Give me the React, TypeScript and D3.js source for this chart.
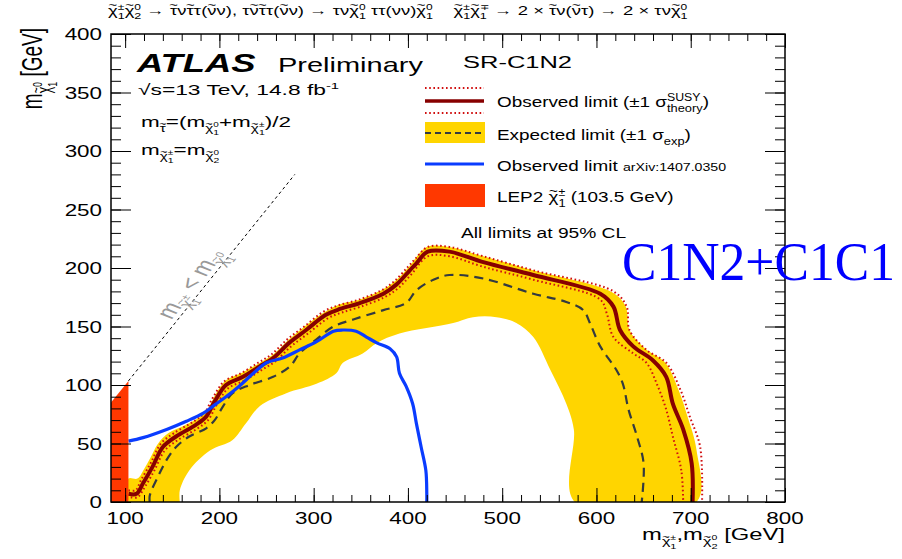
import { useEffect, useRef } from "react";
import * as d3 from "d3";

// ----- data (GeV) -----
const xMajor = [100, 200, 300, 400, 500, 600, 700, 800];
const yMajor = [0, 50, 100, 150, 200, 250, 300, 350, 400];

type P = [number, number];

const observed: P[] = [
  [103.5, 7], [112, 7], [119, 16], [129, 30], [140, 47], [154, 56], [175, 66], [186, 73],
  [195, 86], [207, 100], [225, 107], [243, 116], [257, 123], [274, 136], [292, 147],
  [313, 160], [328, 165], [349, 170], [374, 178], [388, 186], [402, 198], [409, 204],
  [421, 214], [444, 214], [480, 205], [533, 194], [604, 178], [618, 167], [625, 147],
  [639, 133], [660, 121], [674, 107], [681, 84], [692, 62], [701, 33], [702, 0],
];

const theoryUp: P[] = [
  [103.5, 10], [111, 10], [117, 19], [127, 33], [138, 50], [152, 59], [173, 69], [184, 76],
  [193, 89], [205, 103], [223, 110], [241, 119], [255, 126], [272, 139], [290, 150],
  [311, 163], [326, 168], [348, 173], [372, 181], [386, 189], [400, 201], [408, 208],
  [421, 218], [444, 218], [480, 210], [533, 198], [618, 180], [632, 167], [635, 147],
  [653, 130], [674, 119], [689, 96], [699, 73], [710, 47], [712, 0],
];

const theoryDown: P[] = [
  [106, 4], [113, 4], [121, 13], [131, 27], [142, 44], [156, 53], [177, 63], [188, 70],
  [197, 83], [209, 97], [227, 104], [245, 113], [259, 120], [276, 133], [294, 144],
  [315, 157], [330, 162], [350, 167], [375, 175], [390, 183], [404, 195], [421, 210],
  [444, 210], [480, 201], [533, 190], [604, 173], [611, 161], [618, 141], [639, 127],
  [653, 119], [664, 101], [674, 79], [681, 56], [690, 27], [692, 0],
];

const expected: P[] = [
  [126, 0], [126, 5], [128, 10], [135, 22], [144, 36], [154, 47], [168, 56], [186, 63],
  [195, 70], [204, 82], [214, 93], [232, 100], [257, 107], [275, 116], [285, 127],
  [303, 139], [321, 150], [342, 156], [374, 164], [398, 170], [409, 181], [427, 190],
  [444, 194], [480, 191], [533, 178], [568, 171], [586, 164], [593, 153], [604, 133],
  [621, 113], [628, 101], [634, 79], [643, 56], [650, 33], [648, 0],
];

const bandOuter: P[] = [
  [103.5, 0], [103.5, 20], [113, 20], [120, 28], [127, 38], [135, 50], [146, 59], [162, 65],
  [178, 72], [188, 80], [196, 92], [207, 104], [225, 111], [243, 119], [257, 126],
  [274, 139], [292, 151], [313, 163], [328, 169], [349, 173], [374, 182], [388, 190],
  [402, 202], [420, 218], [444, 218], [480, 210], [533, 198], [617, 179], [631, 167],
  [635, 147], [652, 131], [673, 119], [687, 96], [697, 72], [706, 45], [706, 0],
];

const bandInner: P[] = [
  [158, 0], [158, 10], [168, 27], [190, 44], [214, 53], [228, 67], [243, 82], [271, 93],
  [303, 101], [324, 110], [331, 119], [352, 127], [367, 136], [391, 144], [448, 153],
  [469, 158], [494, 158], [515, 153], [533, 141], [551, 113], [568, 84], [576, 62], [577, 0],
];

const arxiv: P[] = [
  [103.5, 52], [119, 55], [144, 62], [165, 69], [183, 76], [195, 83], [207, 90], [221, 99],
  [236, 110], [250, 119], [267, 123], [285, 130], [303, 137], [321, 146], [331, 147],
  [345, 146], [356, 141], [367, 136], [381, 131], [388, 124], [391, 110], [398, 99],
  [405, 84], [409, 67], [414, 47], [419, 27], [420, 7], [420, 0],
];

const lep2: P[] = [[85, 0], [85, 85], [103.5, 103.5], [103.5, 0]];
const diagonal: P[] = [[103.5, 103.5], [280, 280]];

const YELLOW = "#ffd500";
const OBS = "#870000";
const DOT = "#d01010";
const EXP = "#333a40";
const BLUE = "#0a3cff";
const LEP = "#ff3800";
const FONT = "'Liberation Sans', Arial, sans-serif";

// ----- rich text (ROOT-like latex) -----
type Seg = { t?: string; tilde?: boolean; sup?: Seg[]; sub?: Seg[]; scale?: number; bold?: boolean; italic?: boolean };
const s = (t: string): Seg => ({ t });
const chi = (sup: string, sub: string): Seg => ({ t: "χ", tilde: true, sup: [s(sup)], sub: [s(sub)] });
const til = (t: string): Seg => ({ t, tilde: true });
const mOf = (sub: Seg[]): Seg => ({ t: "m", sub });

function drawRich(g: any, segs: Seg[], x0: number, y0: number, size: number, fill: string, subDy = 0.3): number {
  let cx = x0;
  for (const sg of segs) {
    const fs = size * (sg.scale ?? 1);
    let w = 0;
    if (sg.t) {
      const t = g.append("text")
        .attr("x", cx).attr("y", y0)
        .attr("font-size", fs).attr("fill", fill)
        .style("white-space", "pre")
        .text(sg.t);
      if (sg.bold) t.attr("font-weight", "bold");
      if (sg.italic) t.attr("font-style", "italic");
      w = (t.node() as SVGTextElement).getComputedTextLength();
      if (sg.tilde) {
        g.append("text")
          .attr("x", cx + w / 2).attr("y", y0 - fs * 0.45)
          .attr("font-size", fs * 0.8).attr("fill", fill)
          .attr("text-anchor", "middle").text("~");
      }
    }
    cx += w;
    let ws = 0, wb = 0;
    if (sg.sup) ws = drawRich(g, sg.sup, cx, y0 - size * 0.42, size * 0.65, fill);
    if (sg.sub) wb = drawRich(g, sg.sub, cx, y0 + size * subDy, size * 0.68, fill);
    cx += Math.max(ws, wb);
  }
  return cx - x0;
}

function block(parent: any, transform: string, segs: Seg[], size: number, opts: { anchor?: string; fill?: string } = {}) {
  const outer = parent.append("g").attr("transform", transform).attr("font-family", FONT);
  const inner = outer.append("g");
  const w = drawRich(inner, segs, 0, 0, size, opts.fill ?? "#000");
  if (opts.anchor === "end") inner.attr("transform", `translate(${-w},0)`);
  if (opts.anchor === "middle") inner.attr("transform", `translate(${-w / 2},0)`);
  return w;
}

export default function App() {
  const ref = useRef<SVGSVGElement>(null);

  useEffect(() => {
    const svg = d3.select(ref.current);
    svg.selectAll("*").remove();

    const x = d3.scaleLinear().domain([85, 800]).range([111, 785]);
    const y = d3.scaleLinear().domain([0, 400]).range([502, 34]);
    const line = d3.line<P>().x((d) => x(d[0])).y((d) => y(d[1]));
    const smooth = d3.line<P>().x((d) => x(d[0])).y((d) => y(d[1])).curve(d3.curveCatmullRom.alpha(0.5));

    svg.append("rect").attr("width", 902).attr("height", 559).attr("fill", "#fff");
    svg.append("defs").append("clipPath").attr("id", "plot-clip")
      .append("rect").attr("x", 111).attr("y", 34).attr("width", 674).attr("height", 468);

    const plot = svg.append("g").attr("clip-path", "url(#plot-clip)");

    // yellow band
    plot.append("path")
      .attr("d", smooth([...bandOuter, ...bandInner.slice().reverse()]) + "Z")
      .attr("fill", YELLOW);

    // expected
    plot.append("path").attr("d", smooth(expected)).attr("fill", "none")
      .attr("stroke", EXP).attr("stroke-width", 2.2).attr("stroke-dasharray", "9,6");

    // theory +-1 sigma
    [theoryUp, theoryDown].forEach((d) => {
      plot.append("path").attr("d", smooth(d)).attr("fill", "none")
        .attr("stroke", DOT).attr("stroke-width", 2).attr("stroke-dasharray", "1.6,2.6");
    });

    // observed
    plot.append("path").attr("d", smooth(observed)).attr("fill", "none")
      .attr("stroke", OBS).attr("stroke-width", 4);

    // old observed limit arXiv:1407.0350
    plot.append("path").attr("d", smooth(arxiv)).attr("fill", "none")
      .attr("stroke", BLUE).attr("stroke-width", 3.2);

    // LEP2
    plot.append("path").attr("d", line(lep2) + "Z").attr("fill", LEP);

    // kinematic diagonal
    plot.append("path").attr("d", line(diagonal)).attr("fill", "none")
      .attr("stroke", "#000").attr("stroke-width", 1).attr("stroke-dasharray", "3,3");

    // ----- axes (ROOT style: ticks inside on all four sides) -----
    const axes = svg.append("g");
    const mk = (g: any) => { g.select(".domain").remove(); g.selectAll("line").attr("stroke", "#000").attr("stroke-width", 1); };
    axes.append("g").attr("transform", "translate(0,502)")
      .call(d3.axisBottom(x).tickValues(xMajor).tickSize(-14).tickFormat(() => "")).call(mk);
    axes.append("g").attr("transform", "translate(0,502)")
      .call(d3.axisBottom(x).tickValues(d3.range(100, 801, 20)).tickSize(-7).tickFormat(() => "")).call(mk);
    axes.append("g").attr("transform", "translate(0,34)")
      .call(d3.axisTop(x).tickValues(xMajor).tickSize(-14).tickFormat(() => "")).call(mk);
    axes.append("g").attr("transform", "translate(0,34)")
      .call(d3.axisTop(x).tickValues(d3.range(100, 801, 20)).tickSize(-7).tickFormat(() => "")).call(mk);
    axes.append("g").attr("transform", "translate(111,0)")
      .call(d3.axisLeft(y).tickValues(yMajor).tickSize(-20).tickFormat(() => "")).call(mk);
    axes.append("g").attr("transform", "translate(111,0)")
      .call(d3.axisLeft(y).tickValues(d3.range(0, 401, 10)).tickSize(-10).tickFormat(() => "")).call(mk);
    axes.append("g").attr("transform", "translate(785,0)")
      .call(d3.axisRight(y).tickValues(yMajor).tickSize(-20).tickFormat(() => "")).call(mk);
    axes.append("g").attr("transform", "translate(785,0)")
      .call(d3.axisRight(y).tickValues(d3.range(0, 401, 10)).tickSize(-10).tickFormat(() => "")).call(mk);
    axes.append("rect").attr("x", 111).attr("y", 34).attr("width", 674).attr("height", 468)
      .attr("fill", "none").attr("stroke", "#000").attr("stroke-width", 1.5);

    // tick labels
    xMajor.forEach((v) => block(svg, `translate(${x(v)},524) scale(1.4,1)`, [s(String(v))], 16, { anchor: "middle" }));
    yMajor.forEach((v) => block(svg, `translate(102,${y(v) + 6}) scale(1.4,1)`, [s(String(v))], 16, { anchor: "end" }));

    // axis titles
    block(svg, "translate(785,540) scale(1.4,1)",
      [mOf([chi("±", "1")]), s(","), mOf([chi("0", "2")]), s(" [GeV]")], 17, { anchor: "end" });
    block(svg, "translate(42,28) rotate(-90) scale(1,1.55)",
      [mOf([chi("0", "1")]), s(" [GeV]")], 19, { anchor: "end" });

    // header
    block(svg, "translate(108,15) scale(1.42,1)", [
      chi("±", "1"), chi("0", "2"), s(" → "), til("τ"), s("ν"), til("τ"), s("τ("), til("ν"), s("ν), τ"),
      til("ν"), til("τ"), s("τ("), til("ν"), s("ν) → τν"), chi("0", "1"), s(" ττ(νν)"), chi("0", "1"),
      s("    "), chi("±", "1"), chi("∓", "1"), s(" → 2 × "), til("τ"), s("ν("), til("ν"), s("τ) → 2 × τν"),
      chi("0", "1"),
    ], 13);

    // ATLAS label and conditions
    block(svg, "translate(137,72) scale(1.4,1)", [{ t: "ATLAS", bold: true, italic: true }], 26);
    block(svg, "translate(278,72) scale(1.45,1)", [s("Preliminary")], 20);
    block(svg, "translate(138,95) scale(1.52,1)", [{ t: "√s=13 TeV, 14.8 fb", sup: [s("-1")] }], 15);
    block(svg, "translate(141,127) scale(1.5,1)",
      [mOf([til("τ")]), s("=("), mOf([chi("0", "1")]), s("+"), mOf([chi("±", "1")]), s(")/2")], 15);
    block(svg, "translate(141,155) scale(1.5,1)", [mOf([chi("±", "1")]), s("="), mOf([chi("0", "2")])], 15);
    block(svg, "translate(463,68) scale(1.5,1)", [s("SR-C1N2")], 17);

    // legend
    const lg = svg.append("g");
    lg.append("line").attr("x1", 425).attr("x2", 484).attr("y1", 88).attr("y2", 88)
      .attr("stroke", DOT).attr("stroke-width", 2).attr("stroke-dasharray", "1.6,2.6");
    lg.append("line").attr("x1", 425).attr("x2", 484).attr("y1", 101).attr("y2", 101)
      .attr("stroke", OBS).attr("stroke-width", 3.5);
    lg.append("line").attr("x1", 425).attr("x2", 484).attr("y1", 113).attr("y2", 113)
      .attr("stroke", DOT).attr("stroke-width", 2).attr("stroke-dasharray", "1.6,2.6");
    lg.append("rect").attr("x", 425).attr("y", 122).attr("width", 60).attr("height", 21).attr("fill", YELLOW);
    lg.append("line").attr("x1", 425).attr("x2", 485).attr("y1", 133).attr("y2", 133)
      .attr("stroke", EXP).attr("stroke-width", 2).attr("stroke-dasharray", "6,4");
    lg.append("line").attr("x1", 425).attr("x2", 484).attr("y1", 164).attr("y2", 164)
      .attr("stroke", BLUE).attr("stroke-width", 3);
    lg.append("rect").attr("x", 425).attr("y", 184).attr("width", 60).attr("height", 23).attr("fill", LEP);

    block(svg, "translate(497,107) scale(1.22,1)",
      [s("Observed limit (±1 "), { t: "σ", sup: [s("SUSY")], sub: [s("theory")] }, s(")")], 15.5);
    block(svg, "translate(497,140) scale(1.22,1)",
      [s("Expected limit (±1 "), { t: "σ", sub: [s("exp")] }, s(")")], 15.5);
    block(svg, "translate(497,170.5) scale(1.22,1)",
      [s("Observed limit "), { t: "arXiv:1407.0350", scale: 0.75 }], 15.5);
    block(svg, "translate(497,202) scale(1.22,1)", [s("LEP2 "), chi("±", "1"), s(" (103.5 GeV)")], 15.5);

    block(svg, "translate(461,238) scale(1.37,1)", [s("All limits at 95% CL")], 14);

    // diagonal label
    block(svg, "translate(198,287) scale(1.4,1) rotate(-60)",
      [mOf([chi("±", "1")]), s(" < "), mOf([chi("0", "1")])], 19, { anchor: "middle", fill: "#999" });

    // annotation
    svg.append("text").attr("x", 622).attr("y", 280)
      .attr("font-family", "'Liberation Serif', 'Times New Roman', serif")
      .attr("font-size", 54).attr("fill", "#0000ff")
      .attr("textLength", 273).attr("lengthAdjust", "spacingAndGlyphs")
      .text("C1N2+C1C1");
  }, []);

  return (
    <div style={{ position: "absolute", left: 0, top: 0 }}>
      <svg ref={ref} width={902} height={559} style={{ display: "block" }} />
    </div>
  );
}
